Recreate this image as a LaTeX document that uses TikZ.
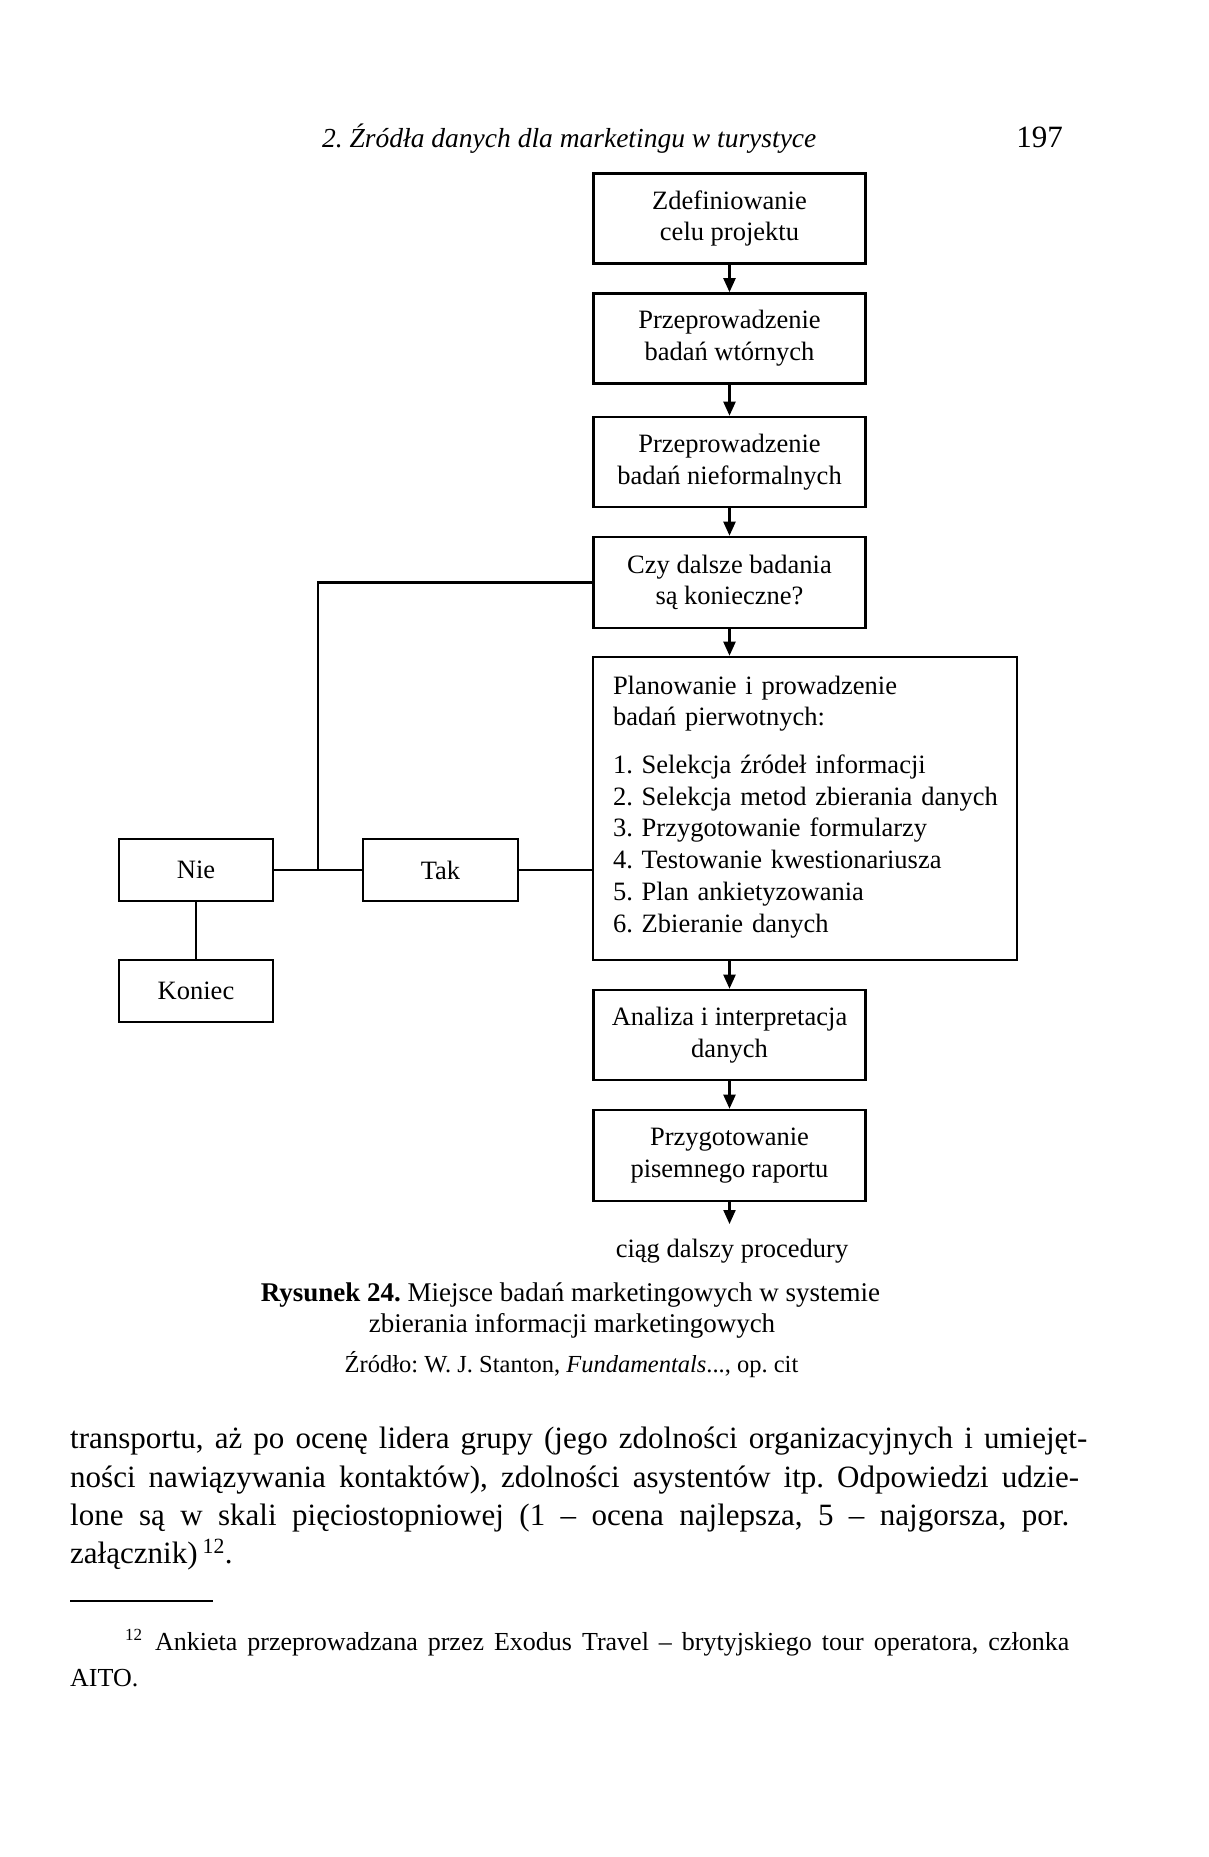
\documentclass[tikz,border=0pt]{standalone}
\usepackage{fontspec}
\setmainfont{Liberation Serif}
\usetikzlibrary{arrows.meta}
\newcommand\myfs[2]{\fontsize{#1pt}{#2pt}\selectfont}
\frenchspacing
\begin{document}
\frenchspacing
\begin{tikzpicture}[x=1pt,y=-1pt,
  box/.style={draw, line width=2.6pt, minimum width=272pt, minimum height=90pt,
    inner sep=0pt, align=center, font=\myfs{26.5}{31.8}},
  small/.style={draw, line width=2.6pt, minimum width=154pt, minimum height=62pt,
    inner sep=0pt, font=\myfs{26.5}{31.8}},
  txt/.style={inner sep=0pt},
  conn/.style={line width=2.4pt},
  arr/.style={line width=2.2pt, -{Triangle[length=14pt,width=12pt]}},
]
\fill[white] (0,0) rectangle (1208,1857);
\useasboundingbox (0,0) rectangle (1208,1857);

% running head
\node[txt, anchor=base west, font=\myfs{27.5}{33}\itshape] (hdr) at (322,147)
  {2. Źródła danych dla marketingu w turystyce};
\node[txt, anchor=base east, font=\myfs{31}{36}] (pg) at (1063,147) {197};

% main column
\node[box] (b1) at (729.5,218.5) {Zdefiniowanie\\celu projektu};
\node[box] (b2) at (729.5,338.5) {Przeprowadzenie\\badań wtórnych};
\node[box] (b3) at (729.5,462) {Przeprowadzenie\\badań nieformalnych};
\node[box, minimum height=91pt] (b4) at (729.5,582.5) {Czy dalsze badania\\są konieczne?};
\node[box, minimum width=424pt, minimum height=303pt, text width=384pt, align=left] (plan) at (805,808.5)
  {\hbox to 0pt{\vbox{\hsize=420pt\raggedright\noindent
   Planowanie i prowadzenie\\
   badań pierwotnych:\\[15.5pt]
   1. Selekcja źródeł informacji\\
   2. Selekcja metod zbierania danych\\
   3. Przygotowanie formularzy\\
   4. Testowanie kwestionariusza\\
   5. Plan ankietyzowania\\
   6. Zbieranie danych\rule[-9pt]{0pt}{1pt}}\hss}};
\node[box] (b6) at (729.5,1035) {Analiza i interpretacja\\danych};
\node[box, minimum height=91pt] (b7) at (729.5,1155.5) {Przygotowanie\\pisemnego raportu};
\coordinate (endc) at (729.5,1224);
\node[txt, anchor=base, font=\myfs{26.5}{31.8}] (cont) at (732,1257) {ciąg dalszy procedury};

% side branch
\node[small] (nie) at (196,870) {Nie};
\node[small, minimum width=155pt] (tak) at (440.5,870) {Tak};
\node[small] (kon) at (196,991) {Koniec};
\coordinate (jn) at (318,870);

\draw[conn] (b4.west) -| (jn);
\draw[conn] (nie.east) -- (tak.west);
\draw[conn] (tak.east) -- (tak.east -| plan.west);
\draw[conn] (nie.south) -- (kon.north);

\draw[arr] (b1.south) -- (b2.north);
\draw[arr] (b2.south) -- (b3.north);
\draw[arr] (b3.south) -- (b4.north);
\draw[arr] (b4.south) -- (b4.south |- plan.north);
\draw[arr] (b6.north |- plan.south) -- (b6.north);
\draw[arr] (b6.south) -- (b7.north);
\draw[arr] (b7.south) -- (endc);

% caption
\node[txt, anchor=base, font=\myfs{27}{32}] (cap1) at (570.5,1301)
  {\textbf{Rysunek 24.} Miejsce badań marketingowych w systemie};
\node[txt, anchor=base, font=\myfs{27}{32}] (cap2) at (572,1332)
  {zbierania informacji marketingowych};
\node[txt, anchor=base, font=\myfs{24.5}{28}] (cap3) at (571.5,1372)
  {Źródło: W. J. Stanton, \textit{Fundamentals}..., op. cit};

% body text
\node[txt, anchor=base west, font=\myfs{31}{38}] (p1) at (70,1448)
  {\makebox[1017pt][s]{transportu, aż po ocenę lidera grupy (jego zdolności organizacyjnych i umiejęt-}};
\node[txt, anchor=base west, font=\myfs{31}{38}] (p2) at (70,1487)
  {\makebox[1009pt][s]{ności nawiązywania kontaktów), zdolności asystentów itp. Odpowiedzi udzie-}};
\node[txt, anchor=base west, font=\myfs{31}{38}] (p3) at (70,1525)
  {\makebox[999pt][s]{lone są w skali pięciostopniowej (1 – ocena najlepsza, 5 – najgorsza, por.}};
\node[txt, anchor=base west, font=\myfs{31}{38}] (p4) at (70,1563)
  {załącznik)\,\textsuperscript{12}.};

% footnote
\draw[line width=2pt] (70,1601) -- (213,1601);
\node[txt, anchor=base west, font=\myfs{17}{20}] (fnm) at (125,1640) {12};
\node[txt, anchor=base west, font=\myfs{26}{31}] (fn1) at (155,1650)
  {\makebox[914pt][s]{Ankieta przeprowadzana przez Exodus Travel – brytyjskiego tour operatora, członka}};
\node[txt, anchor=base west, font=\myfs{26}{31}] (fn2) at (70,1686) {AITO.};
\end{tikzpicture}
\end{document}
